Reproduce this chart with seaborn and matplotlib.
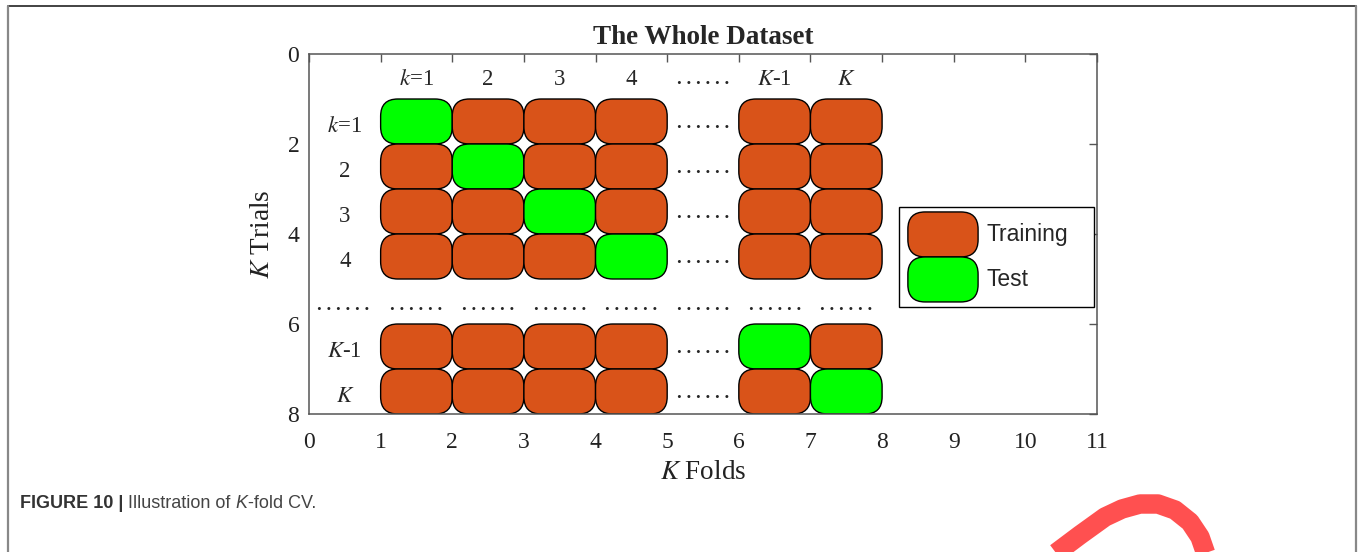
import seaborn as sns
import matplotlib.pyplot as plt
import pandas as pd
from matplotlib.patches import FancyBboxPatch, Rectangle
from matplotlib.lines import Line2D
from matplotlib.transforms import IdentityTransform

# chart content
fold_labels = [r'$k$=1', '2', '3', '4', r'$K$-1', r'$K$']
fold_left = [1, 2, 3, 4, 6, 7]          # left edge of each fold column
trial_labels = [r'$k$=1', '2', '3', '4', r'$K$-1', r'$K$']
trial_top = [1, 2, 3, 4, 6, 7]          # top edge of each trial row
test_fold = [0, 1, 2, 3, 4, 5]          # index of the test fold in each trial
gap_fold = 5                            # column holding the "......"
gap_trial = 5                           # row holding the "......"
legend_names = ['Training', 'Test']

train_color = '#D95319'
test_color = '#00FF00'
dots = '. . . . . .'

rows = []
for t, top in enumerate(trial_top):
    for f, left in enumerate(fold_left):
        rows.append({'trial': t, 'fold': f, 'x': left, 'y': top,
                     'role': 'Test' if test_fold[t] == f else 'Training'})
blocks = pd.DataFrame(rows)

sns.set_theme(style='white')
plt.rcParams['font.family'] = ['Liberation Serif', 'DejaVu Serif']
plt.rcParams['mathtext.fontset'] = 'stix'

fig = plt.figure(figsize=(13.63, 5.52), dpi=100)
ax = fig.add_axes([309 / 1363, 1 - 414 / 552, 788 / 1363, 360 / 552])
ax.set_xlim(0, 11)
ax.set_ylim(8, 0)

aspect = (788 / 11) / (360 / 8)
for _, b in blocks.iterrows():
    col = test_color if b['role'] == 'Test' else train_color
    ax.add_patch(FancyBboxPatch((b['x'], b['y']), 1, 1,
                                boxstyle='round,pad=0,rounding_size=0.24',
                                mutation_aspect=aspect, fc=col, ec='black', lw=1.0))

# column headers and row labels
for lab, left in zip(fold_labels, fold_left):
    ax.text(left + 0.5, 0.69, lab, ha='center', va='baseline', fontsize=16.5)
for lab, top in zip(trial_labels, trial_top):
    ax.text(0.5, top + 0.74, lab, ha='center', va='baseline', fontsize=16.5)

# ellipsis column / row
dot_kw = dict(ha='center', va='baseline', fontsize=13.5, fontweight='bold')
ax.text(gap_fold + 0.5, 0.66, dots, **dot_kw)
for top in trial_top:
    ax.text(gap_fold + 0.5, top + 0.64, dots, **dot_kw)
for xc in [0.48] + [l + 0.5 for l in fold_left[:4]] + [gap_fold + 0.5] + [l + 0.5 for l in fold_left[4:]]:
    ax.text(xc, gap_trial + 0.68, dots, **dot_kw)

# legend box
ax.add_patch(Rectangle((8.24, 3.4), 2.72, 2.22, fc='white', ec='black', lw=1.0))
for i, (name, col) in enumerate(zip(legend_names, [train_color, test_color])):
    ax.add_patch(FancyBboxPatch((8.36, 3.51 + i), 0.98, 1.0,
                                boxstyle='round,pad=0,rounding_size=0.24',
                                mutation_aspect=aspect, fc=col, ec='black', lw=1.0))
    ax.text(9.46, 4.0 + i, name, ha='left', va='center', fontsize=16.5,
            family='Liberation Sans')

ax.set_xticks(range(0, 12))
ax.set_yticks(range(0, 9, 2))
ax.tick_params(direction='in', length=6, width=1.0, colors='#555555',
               labelcolor='#222222', labelsize=17, top=True, right=True)
ax.tick_params(axis='x', pad=13)
ax.tick_params(axis='y', pad=7)
for s in ax.spines.values():
    s.set_color('#555555')
    s.set_linewidth(1.1)

ax.set_title('The Whole Dataset', fontsize=19.5, fontweight='bold', pad=7)
ax.set_xlabel(r'$K$ Folds', fontsize=19.5, labelpad=5, color='#222222')
ax.set_ylabel(r'$K$ Trials', fontsize=19.5, labelpad=9, color='#222222')

# caption
cap_kw = dict(fontsize=13, family='Liberation Sans', va='center', ha='left')
c1 = fig.text(20 / 1363, 1 - 503 / 552, 'FIGURE 10 |', fontweight='bold',
              color='#333333', **cap_kw)
c2 = ax.annotate(' Illustration of ', xy=(1, 0.5), xycoords=c1, color='#444444', **cap_kw)
c3 = ax.annotate('K', xy=(1, 0.5), xycoords=c2, style='italic', color='#444444', **cap_kw)
ax.annotate('-fold CV.', xy=(1, 0.5), xycoords=c3, color='#444444', **cap_kw)

# page frame and logo mark
H = 552
px = IdentityTransform()
fig.add_artist(Line2D([8, 1356], [H - 6, H - 6], transform=px, color='#222222', lw=1.2))
fig.add_artist(Line2D([8, 8], [0, H - 6], transform=px, color='#888888', lw=1.6))
fig.add_artist(Line2D([1356, 1356], [0, H - 6], transform=px, color='#888888', lw=1.6))
sx = [1040, 1080, 1105, 1122, 1140, 1158, 1175, 1190, 1200, 1208]
sy = [565, 535, 517, 509, 504, 504, 510, 522, 537, 560]
fig.add_artist(Line2D(sx, [H - v for v in sy], transform=px, color='#FF5050',
                      lw=14, solid_capstyle='butt', solid_joinstyle='round'))

fig.savefig('out.png', dpi=100)
